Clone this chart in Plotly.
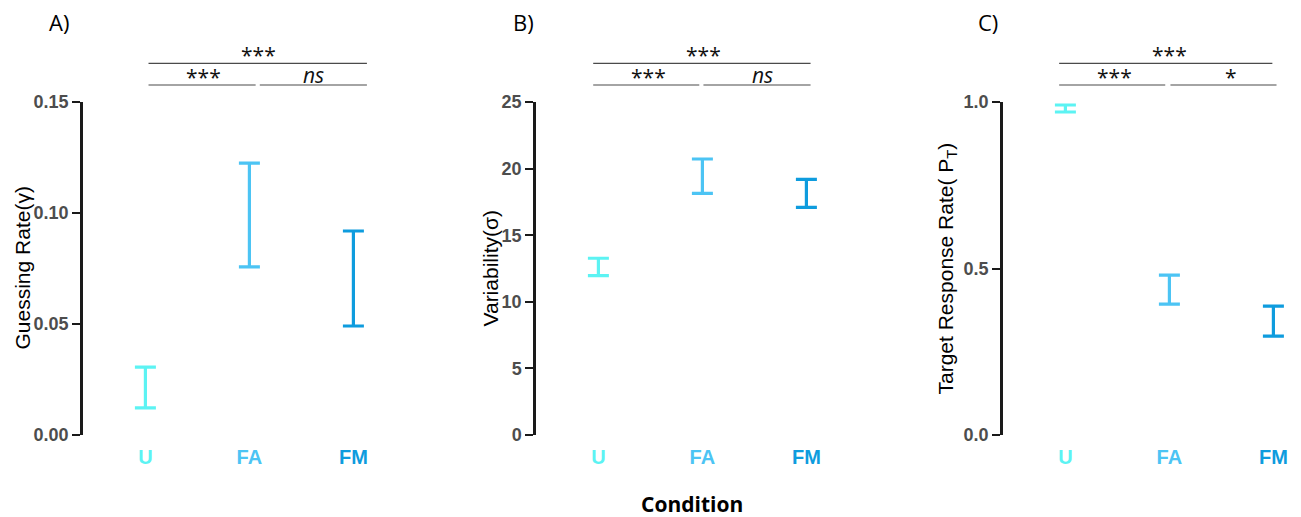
import plotly.graph_objects as go

# ---- data -------------------------------------------------------------
conditions = ["U", "FA", "FM"]
cond_colors = ["#5CF3F3", "#4CC4F4", "#0E9CDE"]

# 95% interval bounds per condition
guess_lower = [0.0122, 0.0757, 0.0491]
guess_upper = [0.0306, 0.1225, 0.0919]

sigma_lower = [11.96, 18.14, 17.09]
sigma_upper = [13.27, 20.72, 19.19]

pt_lower = [0.970, 0.393, 0.297]
pt_upper = [0.991, 0.480, 0.387]

# pairwise significance labels: (U vs FM), (U vs FA), (FA vs FM)
sig_a = ["***", "***", "<i>ns</i>"]
sig_b = ["***", "***", "<i>ns</i>"]
sig_c = ["***", "***", "*"]

panel_letters = ["A)", "B)", "C)"]
y_titles = ["Guessing Rate(γ)", "Variability(σ)", "Target Response Rate( P<sub>T</sub>)"]
y_ranges = [[0, 0.15], [0, 25], [0, 1.0]]
y_dticks = [0.05, 5, 0.5]
y_formats = [".2f", "d", ".1f"]

# ---- layout geometry (pixels) ----------------------------------------
W, H = 1301, 517
plot_top, plot_bottom = 102, 435
axis_left = [83, 536, 1003]
x_range = [-0.6, 2.25]
unit_px = 104.0
plot_w = unit_px * (x_range[1] - x_range[0])

# bracket extents in category units: top line, lower-left, lower-right,
# and the x of each label
brackets = [
    dict(top=(0.03, 2.13), left=(0.03, 1.06), right=(1.10, 2.13), tx=(1.09, 0.56, 1.62)),
    dict(top=(-0.05, 2.04), left=(-0.05, 0.97), right=(1.01, 2.04), tx=(1.01, 0.48, 1.58)),
    dict(top=(-0.06, 1.99), left=(-0.06, 0.96), right=(1.01, 2.03), tx=(1.00, 0.47, 1.59)),
]
top_line_px, low_line_px = 63.3, 85.0


def py(px):
    return (H - px) / H


def pxx(px):
    return px / W


fig = go.Figure()
bounds = [(guess_lower, guess_upper), (sigma_lower, sigma_upper), (pt_lower, pt_upper)]
sigs = [sig_a, sig_b, sig_c]

tick_font = dict(family="Liberation Sans, Arial, sans-serif", size=18, color="#4D4D4D", weight="bold")
label_font = dict(family="Open Sans, sans-serif", size=21, color="#111111")

for i in range(3):
    xa = "x" if i == 0 else f"x{i+1}"
    ya = "y" if i == 0 else f"y{i+1}"
    lo, hi = bounds[i]
    for c, color, l, h in zip(conditions, cond_colors, lo, hi):
        mid = (l + h) / 2
        fig.add_trace(go.Scatter(
            x=[c], y=[mid], mode="markers",
            marker=dict(size=1, opacity=0, color=color),
            error_y=dict(type="data", symmetric=False, array=[h - mid], arrayminus=[mid - l],
                         color=color, thickness=3.2, width=10.5),
            xaxis=xa, yaxis=ya, showlegend=False, hoverinfo="skip",
        ))

    x0 = axis_left[i]
    dom_x = [pxx(x0), pxx(x0 + plot_w)]
    ticktext = [f'<span style="color:{col}">{c}</span>' for c, col in zip(conditions, cond_colors)]
    fig.layout[("xaxis" if i == 0 else f"xaxis{i+1}")] = dict(
        domain=dom_x, range=x_range, type="category",
        categoryorder="array", categoryarray=conditions,
        tickmode="array", tickvals=conditions, ticktext=ticktext,
        showline=False, showgrid=False, zeroline=False, ticks="",
        ticklabelstandoff=8, automargin=False,
        tickfont=dict(family="Liberation Sans, Arial, sans-serif", size=20, weight="bold"),
        anchor=ya,
    )
    fig.layout[("yaxis" if i == 0 else f"yaxis{i+1}")] = dict(
        domain=[py(plot_bottom), py(plot_top)], range=y_ranges[i],
        dtick=y_dticks[i], tick0=0, tickformat=y_formats[i],
        showline=True, linecolor="#1A1A1A", linewidth=2.5,
        ticks="outside", ticklen=8, tickwidth=2, tickcolor="#1A1A1A",
        showgrid=False, zeroline=False, tickfont=tick_font, automargin=False,
        anchor=xa,
    )

    # significance brackets
    b = brackets[i]
    line_style = dict(color="#4A4A4A", width=1.2)
    for (a0, a1), ypx in [(b["top"], top_line_px), (b["left"], low_line_px), (b["right"], low_line_px)]:
        fig.add_shape(type="line", xref=xa, yref="paper", x0=a0, x1=a1,
                      y0=py(ypx), y1=py(ypx), line=line_style)
    for txt, tx, ypx in zip(sigs[i], b["tx"], [top_line_px, low_line_px, low_line_px]):
        drop = 8 if "*" in txt else 6
        fig.add_annotation(text=txt, xref=xa, yref="paper", x=tx, y=py(ypx + drop),
                           xanchor="center", yanchor="bottom", showarrow=False,
                           font=label_font)

    # y-axis title
    title_x = [22, 490, 946][i]
    fig.add_annotation(text=y_titles[i], xref="paper", yref="paper",
                       x=pxx(title_x), y=py((plot_top + plot_bottom) / 2),
                       xanchor="center", yanchor="middle", textangle=-90, showarrow=False,
                       font=dict(family="Liberation Sans, Arial, sans-serif", size=21, color="#000000"))

    # panel letter
    fig.add_annotation(text=panel_letters[i], xref="paper", yref="paper",
                       x=pxx([59, 523, 988][i]), y=py(22),
                       xanchor="center", yanchor="middle", showarrow=False,
                       font=dict(family="Open Sans, sans-serif", size=22, color="#000000"))

# shared x title
fig.add_annotation(text="<b>Condition</b>", xref="paper", yref="paper",
                   x=pxx(692), y=py(504), xanchor="center", yanchor="middle",
                   showarrow=False, font=dict(family="Open Sans, sans-serif", size=21, color="#000000"))

fig.update_layout(
    width=W, height=H, margin=dict(l=0, r=0, t=0, b=0, pad=0, autoexpand=False),
    paper_bgcolor="white", plot_bgcolor="white", showlegend=False,
)

fig.write_html("out.html")
